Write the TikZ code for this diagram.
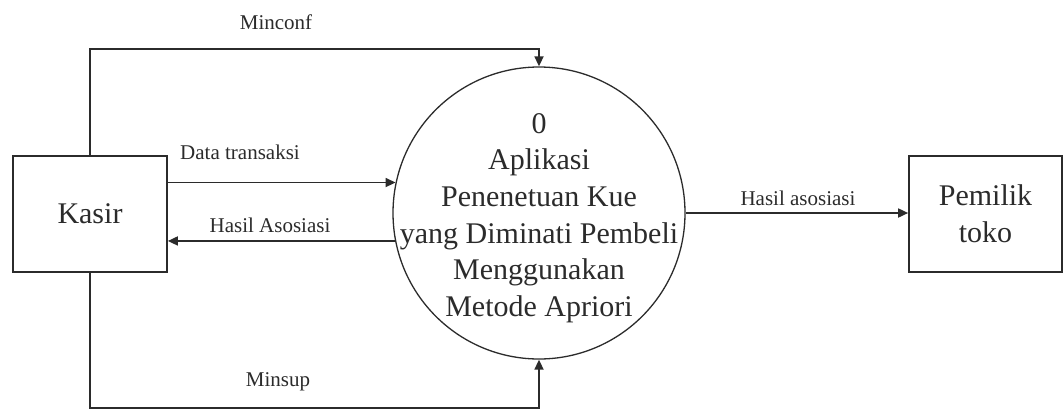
\documentclass[tikz,border=0pt]{standalone}
\usepackage{fontspec}
\setmainfont{Liberation Serif}
\usetikzlibrary{arrows.meta}
\definecolor{ink}{HTML}{2B2B2B}
\tikzset{
  entity/.style={draw=ink, line width=1.7pt, minimum width=154pt, minimum height=116pt,
                 inner sep=0pt, align=center, text=ink,
                 font=\fontsize{30}{37}\selectfont},
  process/.style={draw=ink, line width=1.3pt, circle, minimum size=292pt, inner sep=0pt},
  proctext/.style={align=center, text=ink, font=\fontsize{30}{36.6}\selectfont},
  flow/.style={draw=ink, line width=1.7pt, -{Triangle[length=10pt,width=9pt]}},
  lbl/.style={text=ink, font=\fontsize{21}{25}\selectfont, inner sep=0pt}
}
\begin{document}
\begin{tikzpicture}[x=1pt, y=-1pt]
  \useasboundingbox (0,0) rectangle (1064,410);

  % external entities and the single process
  \node[entity] (K) at (90,214) {Kasir};
  \node[entity, minimum width=153pt] (O) at (985.5,214) {Pemilik\\toko};
  \node[process] (P) at (539,213) {};
  \node[proctext] (Ptext) at (539,218) {0\\Aplikasi\\Penenetuan Kue\\yang Diminati Pembeli\\Menggunakan\\Metode Apriori};

  % routing points for the parameter flows
  \coordinate (top) at (539,49);
  \coordinate (bot) at (539,408);

  % data flows
  \draw[flow] (K.north) |- (top) -- (P.north);
  \draw[flow] (K.south) |- (bot) -- (P.south);
  \draw[flow] (K.east |- P.168.5) -- (P.168.5);
  \draw[flow] (P.191.5) -- (K.east |- P.191.5);
  \draw[flow] (P.east) -- (O.west |- P.east);

  % flow labels
  \node[lbl] (lmc) at (276,22) {Minconf};
  \node[lbl] (lms) at (278,382) {Minsup};
  \node[lbl] (ldt) at (240,152) {Data transaksi};
  \node[lbl] (lha) at (270,225) {Hasil Asosiasi};
  \node[lbl] (lho) at (798,198) {Hasil asosiasi};
\end{tikzpicture}
\end{document}
